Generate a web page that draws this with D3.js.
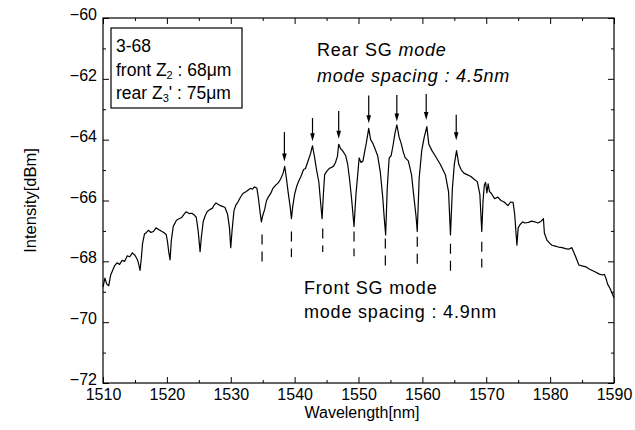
<!DOCTYPE html>
<html>
<head>
<meta charset="utf-8">
<script src="https://cdn.jsdelivr.net/npm/d3@7"></script>
<style>
  body { margin: 0; background: #fff; }
  svg { font-family: "Liberation Sans", Arial, sans-serif; }
  .axis text { font-size: 16px; fill: #000; }
  .axis line { stroke: #000; }
</style>
</head>
<body>
<svg width="635" height="430"></svg>
<script>
// spectrum (nm, dBm)
var wavelength = [1510.0,1510.3,1510.6,1510.9,1511.2,1511.5,1511.8,1512.2,1512.6,1513.0,1513.4,1513.8,1514.2,1514.6,1515.0,1515.4,1515.6,1515.8,1516.0,1516.2,1516.5,1516.8,1517.1,1517.5,1517.9,1518.3,1518.7,1519.1,1519.5,1519.9,1520.1,1520.3,1520.5,1520.7,1521.0,1521.5,1521.9,1522.3,1522.7,1523.0,1523.5,1523.9,1524.3,1524.6,1524.9,1525.2,1525.4,1525.7,1526.0,1526.3,1526.7,1527.1,1527.4,1527.7,1528.0,1528.4,1528.8,1529.1,1529.5,1529.8,1530.0,1530.2,1530.5,1530.8,1531.1,1531.5,1531.9,1532.3,1532.7,1533.1,1533.4,1533.7,1534.1,1534.35,1534.6,1534.8,1535.0,1535.3,1535.6,1535.9,1536.3,1536.6,1537.0,1537.4,1537.8,1538.2,1538.45,1538.7,1539.0,1539.3,1539.5,1539.7,1540.0,1540.3,1540.6,1541.0,1541.4,1541.7,1542.1,1542.5,1542.8,1543.1,1543.4,1543.8,1544.0,1544.3,1544.5,1544.7,1545.0,1545.4,1545.7,1546.1,1546.4,1546.7,1546.9,1547.2,1547.5,1548.0,1548.3,1548.6,1548.9,1549.3,1549.6,1549.9,1550.1,1550.4,1550.7,1551.0,1551.2,1551.6,1551.9,1552.2,1552.5,1553.0,1553.4,1553.8,1554.0,1554.25,1554.5,1554.8,1555.1,1555.4,1555.7,1556.0,1556.35,1556.7,1557.0,1557.3,1557.8,1558.3,1558.7,1559.0,1559.2,1559.5,1559.9,1560.3,1560.7,1561.0,1561.5,1562.0,1562.8,1563.6,1564.1,1564.4,1564.7,1565.0,1565.35,1565.7,1566.1,1566.5,1567.0,1567.6,1568.1,1568.6,1569.0,1569.3,1569.5,1569.7,1569.9,1570.1,1570.3,1570.5,1570.8,1571.3,1571.8,1572.3,1572.8,1573.4,1573.8,1574.2,1574.45,1574.8,1575.0,1575.3,1575.7,1576.0,1576.6,1577.1,1577.6,1578.1,1578.6,1578.95,1579.1,1579.5,1580.0,1580.3,1580.8,1581.3,1581.9,1582.4,1582.9,1583.4,1583.7,1584.0,1584.5,1585.0,1585.6,1586.1,1586.6,1587.1,1587.7,1588.2,1588.5,1588.8,1589.0,1589.4,1589.7,1590.0];
var intensity = [-68.85,-68.55,-68.75,-68.8,-68.45,-68.3,-68.15,-68.05,-68.1,-67.97,-68.0,-67.82,-67.85,-67.72,-67.8,-67.95,-68.1,-68.3,-67.9,-67.4,-67.1,-67.05,-66.98,-67.05,-67.02,-66.9,-66.95,-67.0,-67.05,-67.12,-67.36,-67.7,-67.95,-67.3,-66.85,-66.65,-66.6,-66.56,-66.45,-66.37,-66.43,-66.42,-66.48,-66.55,-67.0,-67.68,-67.2,-66.68,-66.5,-66.37,-66.3,-66.26,-66.15,-66.08,-66.12,-66.17,-66.2,-66.23,-66.45,-66.9,-67.55,-67.0,-66.34,-66.15,-66.06,-65.9,-65.77,-65.72,-65.66,-65.6,-65.63,-65.55,-65.6,-65.95,-66.4,-66.7,-66.5,-66.3,-66.0,-65.88,-65.75,-65.6,-65.5,-65.43,-65.3,-65.1,-64.88,-65.25,-65.75,-66.2,-66.6,-66.2,-65.8,-65.55,-65.38,-65.2,-64.98,-64.95,-64.7,-64.45,-64.2,-64.55,-64.95,-65.4,-65.9,-66.6,-65.8,-65.15,-65.05,-64.95,-64.92,-64.87,-64.75,-64.55,-64.15,-64.3,-64.36,-64.53,-64.8,-65.3,-65.9,-66.85,-65.8,-65.1,-64.6,-64.75,-64.7,-64.35,-64.14,-63.63,-64.0,-64.1,-64.25,-64.53,-65.04,-65.9,-66.5,-67.13,-65.6,-64.6,-64.53,-64.2,-63.8,-63.51,-63.91,-64.14,-64.4,-64.59,-64.7,-65.15,-65.94,-66.5,-67.02,-65.26,-64.36,-63.91,-63.57,-64.14,-64.36,-64.53,-64.81,-65.15,-65.72,-67.13,-65.6,-64.81,-64.36,-64.81,-65.0,-65.1,-65.15,-65.21,-65.3,-65.38,-65.8,-67.02,-66.0,-65.5,-65.4,-65.75,-65.45,-65.7,-65.77,-65.94,-65.89,-66.0,-66.05,-66.17,-66.05,-66.06,-66.45,-67.47,-66.9,-66.79,-66.7,-66.74,-66.72,-66.68,-66.7,-66.74,-66.68,-66.6,-67.07,-67.3,-67.42,-67.47,-67.5,-67.53,-67.55,-67.58,-67.6,-67.55,-67.7,-67.85,-68.12,-68.15,-68.18,-68.25,-68.3,-68.35,-68.42,-68.45,-68.43,-68.6,-68.75,-68.9,-69.05,-69.2];

// rear SG modes (arrows), front SG modes (dashed marks)
var rearModes = [1538.4, 1542.8, 1546.9, 1551.6, 1556.0, 1560.6, 1565.3];
var rearTip = [-64.72, -64.05, -63.97, -63.46, -63.4, -63.35, -64.02];
var rearTail = [-63.75, -63.29, -63.06, -62.55, -62.53, -62.5, -63.18];
var frontModes = [1534.9, 1539.5, 1544.4, 1549.3, 1554.2, 1559.2, 1564.4, 1569.3];
var frontTop = [-67.12, -67.02, -66.92, -67.02, -67.25, -67.19, -67.42, -67.36];
var frontBottom = [-68.03, -67.86, -67.69, -67.83, -68.27, -68.14, -68.31, -68.2];

var xTicks = [1510, 1520, 1530, 1540, 1550, 1560, 1570, 1580, 1590];
var xMinor = [1515, 1525, 1535, 1545, 1555, 1565, 1575, 1585];
var yTicks = [-72, -70, -68, -66, -64, -62, -60];
var yMinor = [-71, -69, -67, -65, -63, -61];

var svg = d3.select("svg");
var plotL = 103, plotR = 614, plotT = 18, plotB = 383;

var x = d3.scaleLinear().domain([1510, 1590]).range([plotL, plotR]);
var y = d3.scaleLinear().domain([-72, -60]).range([plotB, plotT]);

// axes, ticks pointing inward
function addAxis(axis, tx, ty) {
  var g = svg.append("g")
      .attr("class", "axis")
      .attr("transform", "translate(" + tx + "," + ty + ")")
      .call(axis);
  g.select(".domain").remove();
  return g;
}
addAxis(d3.axisBottom(x).tickValues(xTicks).tickSize(-6).tickPadding(6).tickFormat(d3.format("d")), 0, plotB);
addAxis(d3.axisBottom(x).tickValues(xMinor).tickSize(-3).tickFormat(""), 0, plotB);
addAxis(d3.axisTop(x).tickValues(xTicks).tickSize(-6).tickFormat(""), 0, plotT);
addAxis(d3.axisTop(x).tickValues(xMinor).tickSize(-3).tickFormat(""), 0, plotT);
addAxis(d3.axisLeft(y).tickValues(yTicks).tickSize(-6).tickPadding(6).tickFormat(d3.format("d")), plotL, 0)
  .selectAll("text").attr("dy", "0.1em");
addAxis(d3.axisLeft(y).tickValues(yMinor).tickSize(-3).tickFormat(""), plotL, 0);
addAxis(d3.axisRight(y).tickValues(yTicks).tickSize(-6).tickFormat(""), plotR, 0);
addAxis(d3.axisRight(y).tickValues(yMinor).tickSize(-3).tickFormat(""), plotR, 0);

svg.append("rect")
    .attr("x", plotL).attr("y", plotT)
    .attr("width", plotR - plotL).attr("height", plotB - plotT)
    .attr("fill", "none").attr("stroke", "#000").attr("stroke-width", 1.2);

// axis titles
svg.append("text")
    .attr("x", 362).attr("y", 418)
    .attr("text-anchor", "middle").attr("font-size", 16)
    .text("Wavelength[nm]");
svg.append("text")
    .attr("transform", "translate(36," + (plotT + plotB) / 2 + ") rotate(-90)")
    .attr("text-anchor", "middle").attr("font-size", 16.5)
    .text("Intensity[dBm]");

// spectrum
var line = d3.line()
    .x(function(d, i) { return x(wavelength[i]); })
    .y(function(d) { return y(d); });
svg.append("path")
    .datum(intensity)
    .attr("d", line)
    .attr("fill", "none").attr("stroke", "#000").attr("stroke-width", 1.2)
    .attr("stroke-linejoin", "round");

// rear mode arrows
var arrows = svg.append("g");
rearModes.forEach(function(m, i) {
  var ax = x(m), y0 = y(rearTail[i]), y1 = y(rearTip[i]);
  arrows.append("line")
      .attr("x1", ax).attr("x2", ax).attr("y1", y0).attr("y2", y1 - 5)
      .attr("stroke", "#000").attr("stroke-width", 1.2);
  arrows.append("path")
      .attr("d", "M" + (ax - 2.3) + "," + (y1 - 8) + "L" + (ax + 2.3) + "," + (y1 - 8) + "L" + ax + "," + y1 + "Z")
      .attr("fill", "#000");
});

// front mode dashed marks
svg.append("g").selectAll("line")
  .data(frontModes)
  .enter().append("line")
    .attr("x1", function(d) { return x(d); })
    .attr("x2", function(d) { return x(d); })
    .attr("y1", function(d, i) { return y(frontTop[i]); })
    .attr("y2", function(d, i) { return y(frontBottom[i]); })
    .attr("stroke", "#000").attr("stroke-width", 1.2)
    .attr("stroke-dasharray", "10,7");

// annotations
var rear = svg.append("text").attr("font-size", 18).attr("letter-spacing", 0.8);
rear.append("tspan").attr("x", 317).attr("y", 56).text("Rear SG ");
rear.append("tspan").attr("font-style", "italic").text("mode");
rear.append("tspan").attr("x", 317).attr("y", 82).attr("font-style", "italic").text("mode spacing : 4.5nm");

var front = svg.append("text").attr("font-size", 18).attr("letter-spacing", 0.8);
front.append("tspan").attr("x", 304).attr("y", 294).text("Front SG mode");
front.append("tspan").attr("x", 304).attr("y", 318).text("mode spacing : 4.9nm");

// sample box
svg.append("rect")
    .attr("x", 111).attr("y", 28).attr("width", 131).attr("height", 80)
    .attr("fill", "#fff").attr("stroke", "#000").attr("stroke-width", 1.2);
var box = svg.append("text").attr("font-size", 17.5);
box.append("tspan").attr("x", 116).attr("y", 52).text("3-68");
box.append("tspan").attr("x", 116).attr("y", 76).text("front Z");
box.append("tspan").attr("font-size", 11).attr("dy", 3).text("2");
box.append("tspan").attr("dy", -3).text(" : 68\u03bcm");
box.append("tspan").attr("x", 116).attr("y", 99).text("rear Z");
box.append("tspan").attr("font-size", 11).attr("dy", 3).text("3");
box.append("tspan").attr("dx", 0).attr("dy", -3).text("' : 75\u03bcm");
</script>
</body>
</html>
